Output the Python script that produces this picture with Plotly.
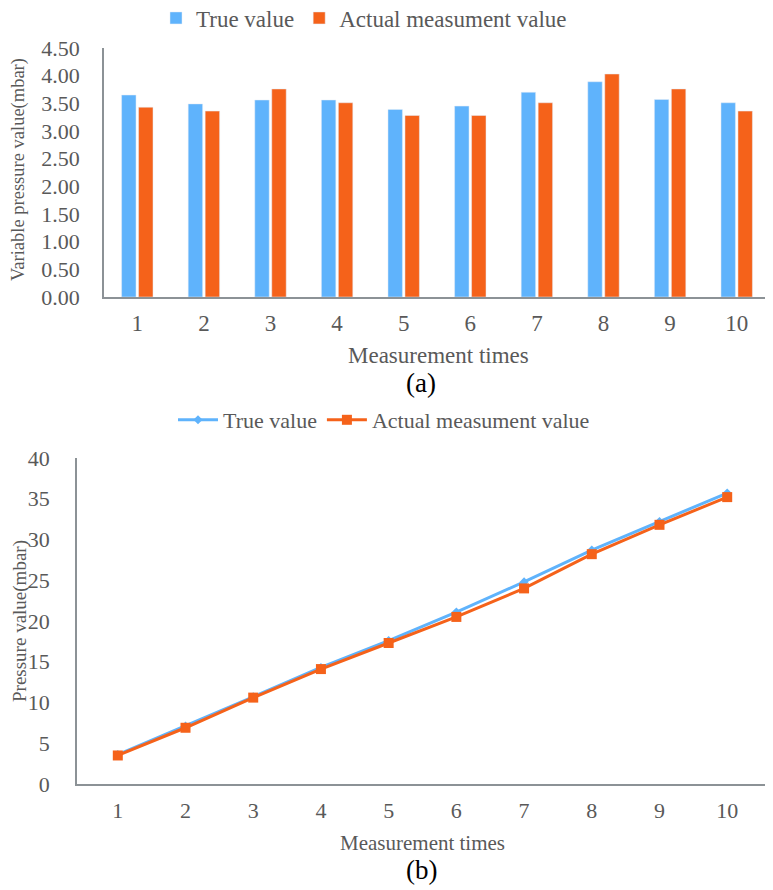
import plotly.graph_objects as go

categories = ["1", "2", "3", "4", "5", "6", "7", "8", "9", "10"]

# (a) variable pressure value per measurement (mbar)
true_var = [3.65, 3.49, 3.56, 3.56, 3.39, 3.45, 3.70, 3.89, 3.57, 3.51]
actual_var = [3.43, 3.36, 3.76, 3.51, 3.28, 3.28, 3.51, 4.03, 3.76, 3.36]

# (b) cumulative pressure value (mbar)
true_p = [3.6, 7.1, 10.7, 14.3, 17.6, 21.1, 24.8, 28.7, 32.2, 35.7]
actual_p = [3.5, 6.9, 10.6, 14.1, 17.3, 20.5, 24.0, 28.2, 31.8, 35.2]

y_ticks_a = [0, 0.5, 1.0, 1.5, 2.0, 2.5, 3.0, 3.5, 4.0, 4.5]
y_ticks_b = [0, 5, 10, 15, 20, 25, 30, 35, 40]

BLUE = "#5FB3FC"
ORANGE = "#F5621A"
TXT = "#595959"
AX = "#8C9296"
FONT = "Liberation Serif"

fig = go.Figure()

fig.add_trace(go.Bar(x=categories, y=true_var, name="True value", marker_color=BLUE,
                     xaxis="x", yaxis="y", legend="legend"))
fig.add_trace(go.Bar(x=categories, y=actual_var, name="Actual measument value", marker_color=ORANGE,
                     xaxis="x", yaxis="y", legend="legend"))

fig.add_trace(go.Scatter(x=categories, y=true_p, name="True value", mode="lines+markers",
                         line=dict(color=BLUE, width=3),
                         marker=dict(symbol="diamond", size=7, color=BLUE),
                         xaxis="x2", yaxis="y2", legend="legend2"))
fig.add_trace(go.Scatter(x=categories, y=actual_p, name="Actual measument value", mode="lines+markers",
                         line=dict(color=ORANGE, width=3),
                         marker=dict(symbol="square", size=10, color=ORANGE),
                         xaxis="x2", yaxis="y2", legend="legend2"))

W, H = 773, 890
OFF = 8  # page body margin offset

def px_x(p):
    return (p - OFF) / W

def px_y(p):
    return 1 - (p - OFF) / H

fig.update_layout(
    width=W, height=H,
    margin=dict(l=0, r=0, t=0, b=0, autoexpand=False),
    paper_bgcolor="white", plot_bgcolor="white",
    font=dict(family=FONT, color=TXT, size=22),
    barmode="group", bargap=0.49, bargroupgap=0.15,
    showlegend=True,
    xaxis=dict(domain=[px_x(104), px_x(770)], anchor="y", type="category",
               showline=True, linecolor=AX, linewidth=1.5, showgrid=False,
               ticks="", tickfont=dict(size=23, color=TXT), ticklabelstandoff=5),
    yaxis=dict(domain=[px_y(297), px_y(48)], anchor="x", range=[0, 4.5],
               tickvals=y_ticks_a, ticktext=[f"{v:.2f}" for v in y_ticks_a],
               showline=True, linecolor=AX, linewidth=1.5, showgrid=False,
               ticks="", tickfont=dict(size=22, color=TXT), ticklabelstandoff=18),
    xaxis2=dict(domain=[px_x(77), px_x(768)], anchor="y2", type="category",
                showline=True, linecolor=AX, linewidth=1.5, showgrid=False,
                ticks="", tickfont=dict(size=22, color=TXT), ticklabelstandoff=6),
    yaxis2=dict(domain=[px_y(784), px_y(458)], anchor="x2", range=[0, 40],
                tickvals=y_ticks_b,
                showline=True, linecolor=AX, linewidth=1.5, showgrid=False,
                ticks="", tickfont=dict(size=22, color=TXT), ticklabelstandoff=21),
    legend=dict(orientation="h", x=px_x(364), y=px_y(18), xanchor="center", yanchor="middle",
                font=dict(size=23, color=TXT), bgcolor="rgba(0,0,0,0)", itemwidth=30,
                tracegroupgap=0),
    legend2=dict(orientation="h", x=px_x(384), y=px_y(420), xanchor="center", yanchor="middle",
                 font=dict(size=22, color=TXT), bgcolor="rgba(0,0,0,0)", itemwidth=40,
                 tracegroupgap=0),
    annotations=[
        dict(text="Variable pressure value(mbar)", x=px_x(19), y=px_y(170), xref="paper", yref="paper",
             textangle=-90, showarrow=False, font=dict(size=18.5, color=TXT),
             xanchor="center", yanchor="middle"),
        dict(text="Measurement times", x=px_x(438), y=px_y(355), xref="paper", yref="paper",
             showarrow=False, font=dict(size=23, color=TXT), xanchor="center", yanchor="middle"),
        dict(text="(a)", x=px_x(421), y=px_y(383), xref="paper", yref="paper",
             showarrow=False, font=dict(size=27, color="black"), xanchor="center", yanchor="middle"),
        dict(text="Pressure value(mbar)", x=px_x(20), y=px_y(621), xref="paper", yref="paper",
             textangle=-90, showarrow=False, font=dict(size=19, color=TXT),
             xanchor="center", yanchor="middle"),
        dict(text="Measurement times", x=px_x(422), y=px_y(843), xref="paper", yref="paper",
             showarrow=False, font=dict(size=21, color=TXT), xanchor="center", yanchor="middle"),
        dict(text="(b)", x=px_x(421), y=px_y(870), xref="paper", yref="paper",
             showarrow=False, font=dict(size=27, color="black"), xanchor="center", yanchor="middle"),
    ],
)

fig.write_html("out.html")
